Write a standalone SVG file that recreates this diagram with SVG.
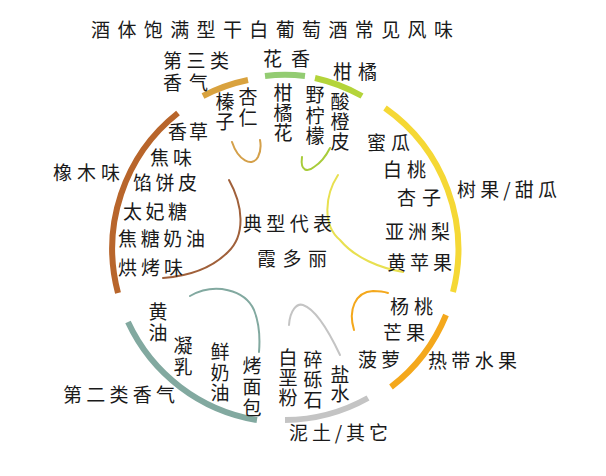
<svg xmlns="http://www.w3.org/2000/svg" width="606" height="476" viewBox="0 0 606 476">
<style>
.t{font-family:"Noto Sans CJK SC","Noto Sans CJK JP",sans-serif;font-size:19px;fill:#1a1a1a}
.tn{font-family:"Liberation Sans","Noto Sans CJK SC","Noto Sans CJK JP",sans-serif;font-size:19px;fill:#1a1a1a}
.vt{font-family:"Noto Sans CJK SC","Noto Sans CJK JP",sans-serif;font-size:19px;fill:#1a1a1a;writing-mode:vertical-rl;text-orientation:upright;letter-spacing:1.5px}
.arc{fill:none;stroke-width:6}
.thin{fill:none;stroke-width:2;stroke-linecap:round}
</style>
<rect width="606" height="476" fill="#ffffff"/>
<g id="connectors">
<path class="arc" d="M178,113 A173,173 0 0 0 118,293" stroke="#B8652B" stroke-width="7"/>
<path class="arc" d="M203,96 A173,173 0 0 1 248,80" stroke="#D9A23E"/>
<path class="arc" d="M265,76 A173,173 0 0 1 305,76" stroke="#93CC72" stroke-width="5"/>
<path class="arc" d="M315,78 A173,173 0 0 1 362,96" stroke="#B4D43A"/>
<path class="arc" d="M385,108 A173,173 0 0 1 453,292" stroke="#F5D835"/>
<path class="arc" d="M446,315 A173,173 0 0 1 391,387" stroke="#F4A81C"/>
<path class="arc" d="M368,398 A173,173 0 0 1 285,420" stroke="#C4C4C4"/>
<path class="arc" d="M128,322 A173,173 0 0 0 257,420" stroke="#82A9A0"/>
<path class="thin" d="M232,142 C238,160 252,168 258,157 C261,151 261,145 260,140" stroke="#D4A04A"/>
<path class="thin" d="M302,157 C300,172 308,172 314,167 C322,162 327,154 330,148" stroke="#A8CC3A"/>
<path class="thin" d="M338,175 C325,195 322,225 340,240 C355,258 380,268 403,272" stroke="#E8E050"/>
<path class="thin" d="M229,180 C243,205 246,235 228,252 C212,268 190,276 163,278" stroke="#A0603A"/>
<path class="thin" d="M190,296 C215,282 245,290 254,310 C260,325 260,340 259,352" stroke="#82A9A0"/>
<path class="thin" d="M289,325 C290,310 297,303 303,305 C318,310 332,338 340,355" stroke="#C4C4C4"/>
<path class="thin" d="M354,330 C348,310 355,292 373,291 C380,291 385,292 388,293" stroke="#F4A81C"/>
</g>
<g id="title">
<text class="t" x="91" y="37" font-size="21" textLength="362" lengthAdjust="spacing">酒体饱满型干白葡萄酒常见风味</text>
</g>
<g id="center">
<text class="t" x="243" y="231" textLength="89" lengthAdjust="spacing">典型代表</text>
<text class="t" x="257" y="266" textLength="70" lengthAdjust="spacing">霞多丽</text>
</g>
<g id="tertiary">
<text class="tn" x="163" y="68" textLength="66" lengthAdjust="spacing">第三类</text>
<text class="tn" x="163" y="90" textLength="45" lengthAdjust="spacing">香气</text>
<text class="vt" x="225" y="92.5" style="letter-spacing:1px">榛子</text>
<text class="vt" x="248" y="87.5" style="letter-spacing:2px">杏仁</text>
</g>
<g id="floral">
<text class="t" x="263" y="66" textLength="47" lengthAdjust="spacing">花香</text>
<text class="vt" x="283" y="83.5" style="letter-spacing:1px">柑橘花</text>
</g>
<g id="citrus">
<text class="t" x="333" y="79" textLength="44" lengthAdjust="spacing">柑橘</text>
<text class="vt" x="315" y="85.5">野柠檬</text>
<text class="vt" x="340" y="92.5" style="letter-spacing:1px">酸橙皮</text>
</g>
<g id="tree-fruit">
<text class="t" x="457" y="197" textLength="100" lengthAdjust="spacing">树果/甜瓜</text>
<text class="t" x="367" y="150" textLength="43" lengthAdjust="spacing">蜜瓜</text>
<text class="t" x="383" y="177" textLength="43" lengthAdjust="spacing">白桃</text>
<text class="t" x="397" y="205" textLength="44" lengthAdjust="spacing">杏子</text>
<text class="t" x="385" y="239" textLength="65" lengthAdjust="spacing">亚洲梨</text>
<text class="t" x="387" y="270" textLength="65" lengthAdjust="spacing">黄苹果</text>
</g>
<g id="tropical">
<text class="t" x="428" y="368" textLength="89" lengthAdjust="spacing">热带水果</text>
<text class="t" x="390" y="314" textLength="43" lengthAdjust="spacing">杨桃</text>
<text class="t" x="383" y="340" textLength="42" lengthAdjust="spacing">芒果</text>
<text class="t" x="358" y="367" textLength="42" lengthAdjust="spacing">菠萝</text>
</g>
<g id="earth">
<text class="t" x="289" y="440" textLength="99" lengthAdjust="spacing">泥土/其它</text>
<text class="vt" x="288" y="348.5" style="letter-spacing:1px">白垩粉</text>
<text class="vt" x="313" y="350.5" style="letter-spacing:1px">碎砾石</text>
<text class="vt" x="340" y="365.5" style="letter-spacing:0px">盐水</text>
</g>
<g id="secondary">
<text class="t" x="63" y="402" textLength="112" lengthAdjust="spacing">第二类香气</text>
<text class="vt" x="158" y="302.5" style="letter-spacing:2px">黄油</text>
<text class="vt" x="183" y="336.5" style="letter-spacing:2px">凝乳</text>
<text class="vt" x="220" y="342.5">鲜奶油</text>
<text class="vt" x="252" y="356.5" style="letter-spacing:2px">烤面包</text>
</g>
<g id="oak">
<text class="t" x="53" y="180" textLength="67" lengthAdjust="spacing">橡木味</text>
<text class="t" x="168" y="139" textLength="40" lengthAdjust="spacing">香草</text>
<text class="t" x="150" y="165" textLength="42" lengthAdjust="spacing">焦味</text>
<text class="t" x="133" y="190" textLength="64" lengthAdjust="spacing">馅饼皮</text>
<text class="t" x="123" y="219" textLength="64" lengthAdjust="spacing">太妃糖</text>
<text class="t" x="118" y="246" textLength="87" lengthAdjust="spacing">焦糖奶油</text>
<text class="t" x="118" y="275" textLength="65" lengthAdjust="spacing">烘烤味</text>
</g>
</svg>
